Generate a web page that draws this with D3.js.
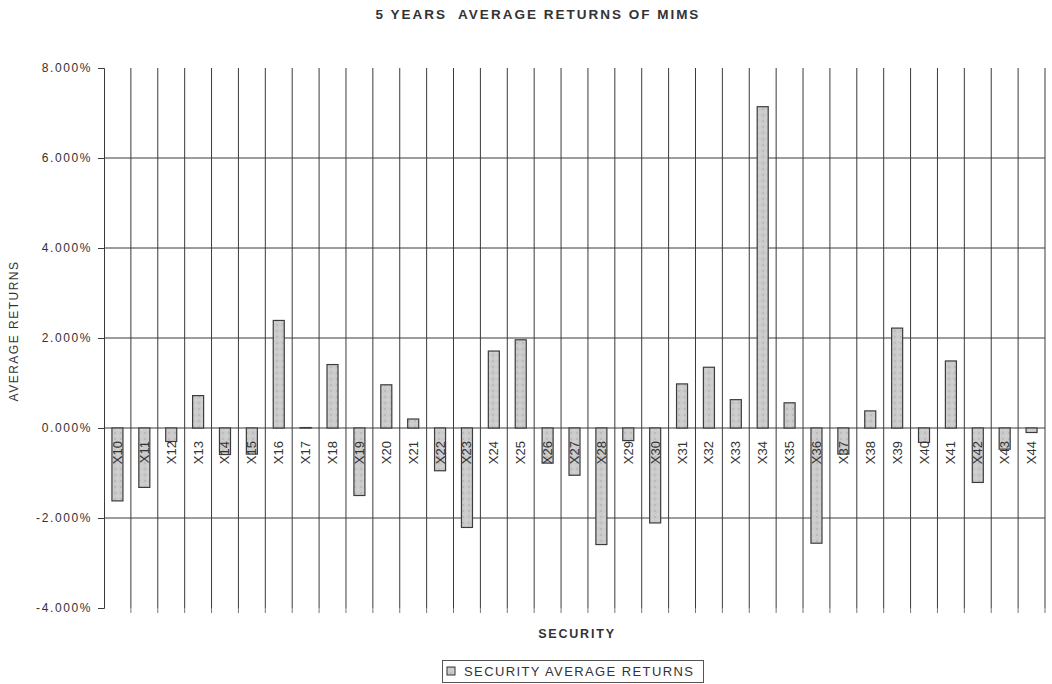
<!DOCTYPE html>
<html><head><meta charset="utf-8">
<script src="https://cdn.jsdelivr.net/npm/d3@7"></script>
<style>body{margin:0;background:#fff;} text{font-family:"Liberation Sans",Arial,sans-serif;fill:#333;}</style>
</head><body>
<svg id="c" width="1052" height="684"></svg>
<script>
const categories = ["X10","X11","X12","X13","X14","X15","X16","X17","X18","X19","X20","X21","X22","X23","X24","X25","X26","X27","X28","X29","X30","X31","X32","X33","X34","X35","X36","X37","X38","X39","X40","X41","X42","X43","X44"];
const returns = [-1.62,-1.32,-0.30,0.72,-0.59,-0.58,2.39,0.01,1.41,-1.50,0.96,0.20,-0.95,-2.21,1.71,1.96,-0.78,-1.05,-2.59,-0.28,-2.11,0.98,1.35,0.63,7.14,0.56,-2.56,-0.58,0.38,2.22,-0.32,1.49,-1.21,-0.47,-0.10].map(v=>v/100);
const yTicks = [-0.04,-0.02,0,0.02,0.04,0.06,0.08];
const title = "5 YEARS  AVERAGE RETURNS OF MIMS";
const yTitle = "AVERAGE RETURNS";
const xTitle = "SECURITY";
const legendLabel = "SECURITY AVERAGE RETURNS";

const svg = d3.select("#c");
const L=104, R=1045, T=68, B=608;
const x = d3.scaleBand().domain(categories).range([L,R]);
const y = d3.scaleLinear().domain([-0.04,0.08]).range([B,T]);

const defs = svg.append("defs");
const pat = defs.append("pattern").attr("id","tex").attr("patternUnits","userSpaceOnUse").attr("width",6).attr("height",6);
pat.append("rect").attr("width",6).attr("height",6).attr("fill","#cbcbcb");
pat.append("circle").attr("cx",1).attr("cy",1).attr("r",0.8).attr("fill","#a8a8a8");
pat.append("circle").attr("cx",4).attr("cy",4).attr("r",0.7).attr("fill","#e2e2e2");

// title
svg.append("text").attr("x",538).attr("y",19).attr("text-anchor","middle")
  .attr("font-size",13.5).attr("font-weight","bold").attr("letter-spacing","2px")
  .style("white-space","pre").attr("xml:space","preserve").text(title);

// horizontal gridlines
svg.append("g").selectAll("line").data(yTicks.filter(t=>t>-0.04&&t<0.08)).join("line")
  .attr("x1",L).attr("x2",R).attr("y1",d=>y(d)).attr("y2",d=>y(d))
  .attr("stroke","#3a3a3a").attr("stroke-width",1);

// vertical gridlines at category boundaries
const bounds = categories.map(c=>x(c)+x.bandwidth());
svg.append("g").selectAll("line").data(bounds).join("line")
  .attr("x1",d=>d).attr("x2",d=>d).attr("y1",T).attr("y2",B)
  .attr("stroke","#3a3a3a").attr("stroke-width",1);

// y axis
const fmt = d3.format(".3%");
const yAxis = svg.append("g").attr("transform",`translate(${L},0)`)
  .call(d3.axisLeft(y).tickValues(yTicks).tickFormat(d=>fmt(d).replace("\u2212","-")).tickSize(6).tickPadding(6));
yAxis.select(".domain").attr("stroke","#3a3a3a");
yAxis.selectAll(".tick line").attr("stroke","#3a3a3a");
yAxis.selectAll("text").attr("font-size",12).attr("fill","#333").attr("letter-spacing","1.6px")
  .attr("font-family","Liberation Sans, Arial, sans-serif");

// bottom tick marks
svg.append("g").selectAll("line").data(bounds).join("line")
  .attr("x1",d=>d).attr("x2",d=>d).attr("y1",B).attr("y2",B+5)
  .attr("stroke","#777");

// bars
const bw = x.bandwidth()*0.41;
svg.append("g").selectAll("rect").data(categories).join("rect")
  .attr("x",(c)=>x(c)+x.bandwidth()/2-bw/2)
  .attr("y",(c,i)=>y(Math.max(0,returns[i])))
  .attr("width",bw)
  .attr("height",(c,i)=>Math.abs(y(returns[i])-y(0)))
  .attr("fill","url(#tex)").attr("stroke","#3c3c3c").attr("stroke-width",1.2);

// category labels
svg.append("g").selectAll("text").data(categories).join("text")
  .attr("transform",c=>`translate(${x(c)+x.bandwidth()/2+4.5},${y(0)+13}) rotate(-90)`)
  .attr("text-anchor","end").attr("font-size",13).text(c=>c);

// axis titles
svg.append("text").attr("transform","translate(18,331) rotate(-90)").attr("text-anchor","middle")
  .attr("font-size",12).attr("letter-spacing","1.5px").text(yTitle);
svg.append("text").attr("x",577).attr("y",638).attr("text-anchor","middle")
  .attr("font-size",12.5).attr("font-weight","bold").attr("letter-spacing","1.8px").text(xTitle);

// legend
const lg = svg.append("g");
lg.append("rect").attr("x",442.5).attr("y",660.5).attr("width",261).attr("height",22)
  .attr("fill","#fff").attr("stroke","#555");
lg.append("rect").attr("x",447).attr("y",667).attr("width",8).attr("height",8)
  .attr("fill","url(#tex)").attr("stroke","#333");
lg.append("text").attr("x",464).attr("y",676).attr("font-size",13).attr("letter-spacing","1.4px").text(legendLabel);
</script>
</body></html>
